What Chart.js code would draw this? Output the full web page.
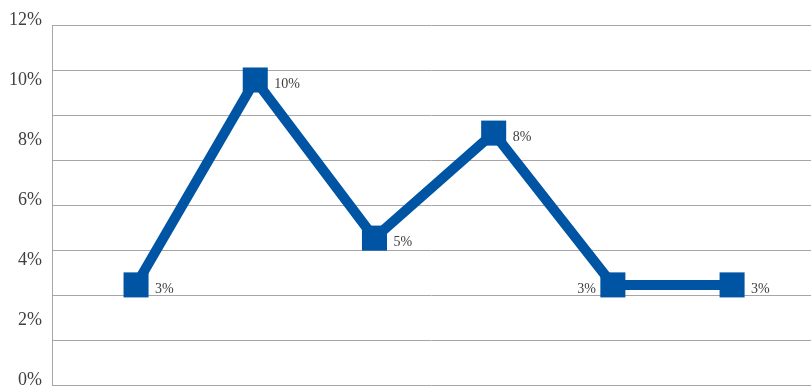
<!DOCTYPE html>
<html>
<head>
<meta charset="utf-8">
<script src="https://cdn.jsdelivr.net/npm/chart.js@4.4.0/dist/chart.umd.min.js"></script>
<style>
  html, body { margin: 0; padding: 0; background: #fff; overflow: hidden; }
  canvas { display: block; }
</style>
</head>
<body>
<canvas id="rateChart" width="811" height="386"></canvas>
<script>
// values (percent)
var categories = [1, 2, 3, 4, 5, 6];
var rates = [3.17, 10.0, 4.73, 8.23, 3.17, 3.17];
var rateLabels = ['3%', '10%', '5%', '8%', '3%', '3%'];
var yTicks = [0, 2, 4, 6, 8, 10, 12];

var blue = '#0054a4';
var serif = "'Liberation Serif', 'DejaVu Serif', serif";

// labels next to each marker, last-but-one sits on the left
var pointLabels = {
    id: 'pointLabels',
    afterDatasetsDraw: function (chart) {
        var ctx = chart.ctx;
        var meta = chart.getDatasetMeta(0);
        ctx.save();
        ctx.font = '14px ' + serif;
        ctx.fillStyle = '#404040';
        ctx.textBaseline = 'middle';
        meta.data.forEach(function (pt, i) {
            if (i === 4) {
                ctx.textAlign = 'right';
                ctx.fillText(rateLabels[i], pt.x - 17, pt.y + 4);
            } else {
                ctx.textAlign = 'left';
                ctx.fillText(rateLabels[i], pt.x + 19, pt.y + 4);
            }
        });
        ctx.restore();
    }
};

function noPadding(scale) {
    scale.paddingTop = 0;
    scale.paddingBottom = 0;
    scale.paddingLeft = 0;
    scale.paddingRight = 0;
}

var ctx = document.getElementById('rateChart').getContext('2d');
var rateChart = new Chart(ctx, {
    type: 'line',
    data: {
        datasets: [{
            data: categories.map(function (c, i) { return { x: c, y: rates[i] }; }),
            borderColor: blue,
            backgroundColor: blue,
            borderWidth: 10,
            tension: 0,
            pointStyle: 'rect',
            pointRadius: 17.7,
            pointHoverRadius: 17.7,
            pointBorderWidth: 0,
            pointBackgroundColor: blue
        }]
    },
    options: {
        responsive: false,
        maintainAspectRatio: false,
        animation: false,
        devicePixelRatio: 1,
        layout: {
            autoPadding: false,
            padding: { top: 25, bottom: 1, left: 0, right: 0 }
        },
        plugins: {
            legend: { display: false },
            tooltip: { enabled: false }
        },
        scales: {
            x: {
                type: 'linear',
                display: false,
                min: 0.295,
                max: 6.662
            },
            y: {
                position: 'left',
                min: -1 / 6,
                max: 12 - 1 / 6,
                grid: { display: false, drawTicks: false },
                border: { display: true, color: '#a6a6a6', width: 1 },
                afterBuildTicks: function (scale) {
                    scale.ticks = yTicks.map(function (v) { return { value: v }; });
                },
                afterFit: function (scale) {
                    scale.width = 52;
                    noPadding(scale);
                },
                ticks: {
                    padding: 10,
                    color: '#404040',
                    font: { family: serif, size: 18 },
                    autoSkip: false,
                    callback: function (v) { return v + '%'; }
                }
            },
            y2: {
                position: 'right',
                min: 0,
                max: 8,
                ticks: { display: false, stepSize: 1 },
                grid: { color: '#a6a6a6', lineWidth: 1, drawTicks: false },
                border: { display: false },
                afterFit: function (scale) {
                    scale.width = 0;
                    noPadding(scale);
                }
            }
        }
    },
    plugins: [pointLabels]
});
</script>
</body>
</html>
